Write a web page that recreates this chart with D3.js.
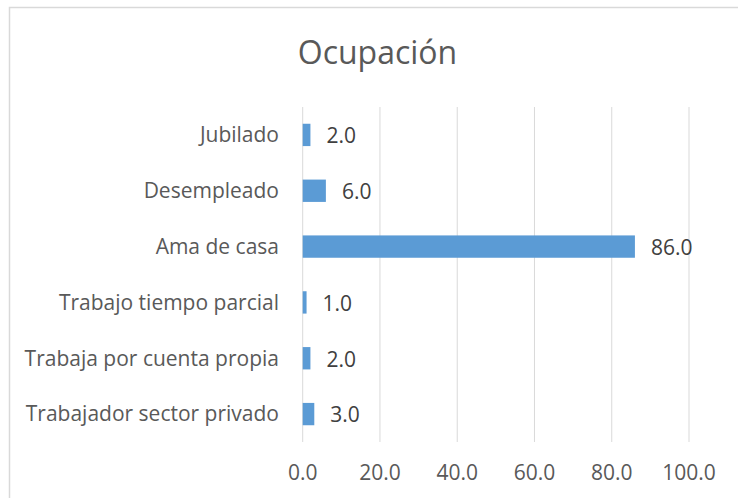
<!DOCTYPE html>
<html lang="es">
  <head>
    <meta charset="UTF-8" />
    <title>Ocupación</title>
    <script src="https://d3js.org/d3.v7.min.js"></script>
    <style>
      body {
        margin: 0;
        background: #fff;
      }
      text {
        font-family: "Open Sans", "Noto Sans", sans-serif;
        fill: #595959;
      }
    </style>
  </head>
  <body>
    <div id="chart"></div>
    <script>
      // data (top to bottom)
      var categories = [
        "Jubilado",
        "Desempleado",
        "Ama de casa",
        "Trabajo tiempo parcial",
        "Trabaja por cuenta propia",
        "Trabajador sector privado",
      ];
      var values = [2.0, 6.0, 86.0, 1.0, 2.0, 3.0];
      var xTicks = [0, 20, 40, 60, 80, 100];
      var title = "Ocupación";

      var width = 738,
        height = 498;

      var svg = d3
        .select("#chart")
        .append("svg")
        .attr("width", width)
        .attr("height", height);

      // chart border (cut off on the right and bottom in the original)
      svg
        .append("path")
        .attr("d", "M9.5," + height + "V7.5H" + width)
        .attr("fill", "none")
        .attr("stroke", "#d9d9d9")
        .attr("stroke-width", 1.5);

      var x = d3.scaleLinear().domain([0, 100]).range([302.7, 689]);
      var y = d3
        .scaleBand()
        .domain(categories)
        .range([107, 442])
        .paddingInner(0.6)
        .paddingOuter(0.3);

      // gridlines
      svg
        .append("g")
        .selectAll("line")
        .data(xTicks)
        .enter()
        .append("line")
        .attr("x1", (d) => x(d))
        .attr("x2", (d) => x(d))
        .attr("y1", 107)
        .attr("y2", 442)
        .attr("stroke", "#d9d9d9")
        .attr("stroke-width", 1);

      // x tick labels
      svg
        .append("g")
        .selectAll("text")
        .data(xTicks)
        .enter()
        .append("text")
        .attr("x", (d) => x(d))
        .attr("y", 480)
        .attr("text-anchor", "middle")
        .style("font-size", "21px")
        .text((d) => d.toFixed(1));

      // category labels
      svg
        .append("g")
        .selectAll("text")
        .data(categories)
        .enter()
        .append("text")
        .attr("x", 279)
        .attr("y", (d) => y(d) + y.bandwidth() / 2)
        .attr("dy", "0.35em")
        .attr("text-anchor", "end")
        .style("font-size", "21px")
        .text((d) => d);

      // bars
      svg
        .append("g")
        .selectAll("rect")
        .data(values)
        .enter()
        .append("rect")
        .attr("x", x(0))
        .attr("y", (d, i) => y(categories[i]))
        .attr("width", (d) => x(d) - x(0))
        .attr("height", y.bandwidth())
        .attr("fill", "#5b9bd5");

      // value labels
      svg
        .append("g")
        .selectAll("text")
        .data(values)
        .enter()
        .append("text")
        .attr("x", (d) => x(d) + 16)
        .attr("y", (d, i) => y(categories[i]) + y.bandwidth() / 2 + 1)
        .attr("dy", "0.35em")
        .style("font-size", "21px")
        .style("fill", "#404040")
        .text((d) => d.toFixed(1));

      // title
      svg
        .append("text")
        .attr("x", 377.5)
        .attr("y", 64)
        .attr("text-anchor", "middle")
        .style("font-size", "32px")
        .text(title);
    </script>
  </body>
</html>
